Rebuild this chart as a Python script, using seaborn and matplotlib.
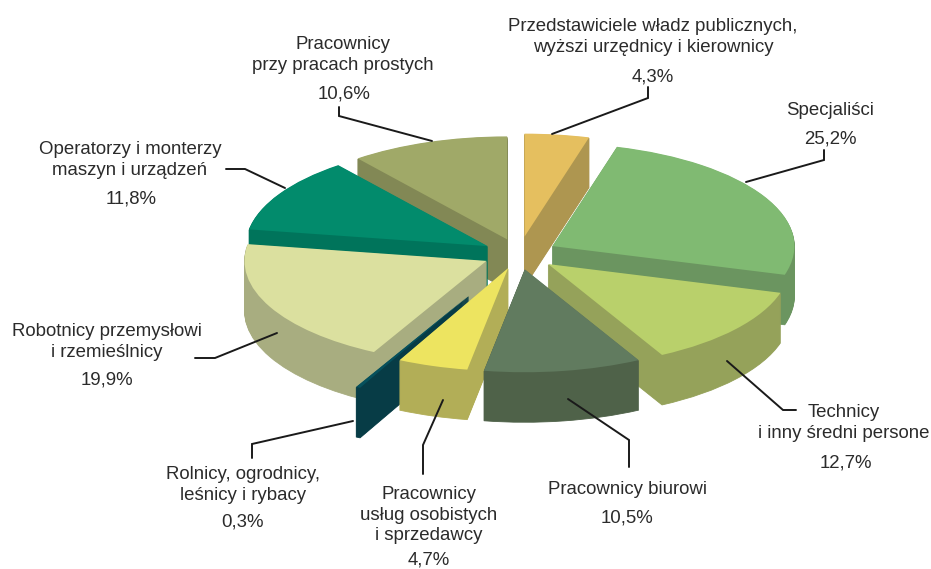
import numpy as np
import seaborn as sns
import matplotlib.pyplot as plt
from matplotlib.patches import Wedge

W, H = 931, 569

# shares of the employed, clockwise from the top
categories = [
    "Przedstawiciele władz publicznych,\nwyższi urzędnicy i kierownicy",
    "Specjaliści",
    "Technicy\ni inny średni persone",
    "Pracownicy biurowi",
    "Pracownicy\nusług osobistych\ni sprzedawcy",
    "Rolnicy, ogrodnicy,\nleśnicy i rybacy",
    "Robotnicy przemysłowi\ni rzemieślnicy",
    "Operatorzy i monterzy\nmaszyn i urządzeń",
    "Pracownicy\nprzy pracach prostych",
]
values = [4.3, 25.2, 12.7, 10.5, 4.7, 0.3, 19.9, 11.8, 10.6]

top_colors = ["#E5BF5F", "#80BA72", "#B9D06B", "#617B5F", "#EDE460",
              "#06505C", "#DBE09F", "#028B6C", "#A0A968"]
wall_colors = ["#AE9650", "#6B9560", "#95A25A", "#4F6249", "#B2AE57",
               "#073C46", "#A8AD80", "#00745B", "#828855"]

# layout of the fake 3D pie, in pixels of the picture
explode = [0.17, 0.158, 0.155, 0.15, 0.144, 0.456, 0.15, 0.15, 0.15]
draw_order = [0, 8, 1, 7, 2, 6, 5, 4, 3]
center_x, center_y = 519, 254
radius_x, radius_y = 242, 103
depth = 50

name_pos = [(653, 37), (830, 110), (844, 423), (627, 489), (429, 515),
            (243, 485), (107, 342), (130, 160), (343, 55)]
value_pos = [(653, 77), (830, 139), (846, 463), (627, 518), (429, 560),
             (243, 522), (107, 380), (131, 199), (344, 94)]
leaders = [
    [(648, 87), (648, 98), (552, 134)],
    [(824, 150), (824, 160), (746, 182)],
    [(796, 410), (783, 410), (727, 361)],
    [(629, 467), (629, 440), (568, 399)],
    [(423, 474), (423, 445), (443, 400)],
    [(252, 458), (252, 444), (353, 421)],
    [(195, 358), (215, 358), (277, 333)],
    [(226, 169), (245, 169), (285, 188)],
    [(339, 107), (339, 116), (432, 141)],
]

sns.set_theme(style="white")
plt.rcParams["font.family"] = ["Liberation Sans", "DejaVu Sans"]

fig = plt.figure(figsize=(W / 100, H / 100), dpi=100)
ax = fig.add_axes([0, 0, 1, 1])

wedges, _ = ax.pie(values, explode=explode, startangle=90, counterclock=False,
                   colors=sns.color_palette(top_colors), wedgeprops={"linewidth": 0})

# the pie is a unit circle, squashing the axes turns it into an ellipse
ax.set_aspect("auto")
ax.set_xlim(-center_x / radius_x, (W - center_x) / radius_x)
ax.set_ylim((center_y - H) / radius_y, center_y / radius_y)

# stack copies of each slice downwards for the side walls
for rank, i in enumerate(draw_order):
    w = wedges[i]
    w.set_zorder(rank * 2 + 2)
    cx, cy = w.center
    for off in np.arange(depth, 0, -1):
        ax.add_patch(Wedge((cx, cy - off / radius_y), 1, w.theta1, w.theta2,
                           facecolor=wall_colors[i], edgecolor=wall_colors[i],
                           linewidth=0.6, zorder=rank * 2 + 1))

# labels and leader lines live in a pixel-sized overlay
over = fig.add_axes([0, 0, 1, 1], facecolor="none")
over.set_xlim(0, W)
over.set_ylim(H, 0)
over.axis("off")

text_color = "#2b2b2b"
for name, val, np_, vp, line in zip(categories, values, name_pos, value_pos, leaders):
    over.text(np_[0], np_[1], name, ha="center", va="center", fontsize=13.4,
              color=text_color, linespacing=1.3)
    over.text(vp[0], vp[1], f"{val:.1f}%".replace(".", ","), ha="center", va="center",
              fontsize=13.4, color=text_color)
    xs, ys = zip(*line)
    over.plot(xs, ys, color="#1a1a1a", linewidth=1.4, solid_joinstyle="miter")

fig.savefig("out.png", dpi=100)
